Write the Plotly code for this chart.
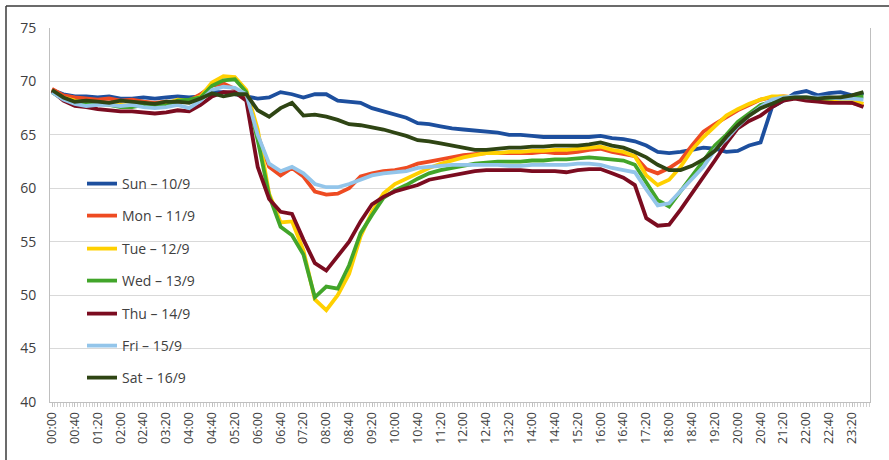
import plotly.graph_objects as go

# time of day in minutes (20-minute samples)
minutes = list(range(0, 1440, 20))

tick_minutes = list(range(0, 1440, 40))
tick_labels = ["00:00", "00:40", "01:20", "02:00", "02:40", "03:20", "04:00", "04:40", "05:20",
               "06:00", "06:40", "07:20", "08:00", "08:40", "09:20", "10:00", "10:40", "11:20",
               "12:00", "12:40", "13:20", "14:00", "14:40", "15:20", "16:00", "16:40", "17:20",
               "18:00", "18:40", "19:20", "20:00", "20:40", "21:20", "22:00", "22:40", "23:20"]

series_names = ["Sun – 10/9", "Mon – 11/9", "Tue – 12/9", "Wed – 13/9", "Thu – 14/9", "Fri – 15/9", "Sat – 16/9"]
series_colors = ["#1D4F9E", "#EE4B22", "#FFD000", "#42A52A", "#7B0C20", "#93C5EA", "#2F4514"]

sun = [69.2, 68.8, 68.6, 68.6, 68.5, 68.6, 68.4, 68.4, 68.5, 68.4, 68.5, 68.6, 68.5, 68.6, 69.0, 69.0,
       68.8, 68.6, 68.4, 68.5, 69.0, 68.8, 68.5, 68.8, 68.8, 68.2, 68.1, 68.0, 67.5, 67.2, 66.9, 66.6,
       66.1, 66.0, 65.8, 65.6, 65.5, 65.4, 65.3, 65.2, 65.0, 65.0, 64.9, 64.8, 64.8, 64.8, 64.8, 64.8,
       64.9, 64.7, 64.6, 64.4, 64.0, 63.4, 63.3, 63.4, 63.6, 63.8, 63.7, 63.4, 63.5, 64.0, 64.3, 67.6,
       68.2, 68.9, 69.1, 68.7, 68.9, 69.0, 68.7, 68.9]
mon = [69.3, 68.7, 68.5, 68.4, 68.3, 68.4, 68.2, 68.3, 68.1, 68.0, 68.1, 68.0, 68.2, 68.8, 69.6, 69.8,
       69.3, 68.6, 65.0, 62.0, 61.2, 61.9, 61.1, 59.7, 59.4, 59.5, 60.0, 61.1, 61.4, 61.6, 61.7, 61.9,
       62.3, 62.5, 62.7, 62.9, 63.1, 63.2, 63.3, 63.3, 63.3, 63.3, 63.3, 63.4, 63.3, 63.3, 63.4, 63.6,
       63.7, 63.4, 63.2, 63.0, 61.8, 61.4, 61.9, 62.6, 64.0, 65.3, 66.0, 66.7, 67.3, 67.8, 68.3, 68.5,
       68.6, 68.5, 68.4, 68.2, 68.2, 68.1, 68.0, 67.7]
tue = [69.1, 68.5, 68.2, 68.0, 68.0, 67.9, 67.8, 67.7, 67.8, 67.8, 67.9, 68.3, 68.2, 68.6, 69.9, 70.5,
       70.4, 69.2, 65.5, 59.5, 56.8, 56.9, 54.2, 49.6, 48.6, 50.0, 52.0, 55.5, 57.8, 59.5, 60.4, 60.9,
       61.4, 61.9, 62.3, 62.6, 62.9, 63.1, 63.3, 63.3, 63.4, 63.4, 63.5, 63.5, 63.6, 63.6, 63.7, 63.8,
       63.9, 63.6, 63.4, 63.0, 61.2, 60.3, 60.8, 62.0, 63.6, 64.8, 65.8, 66.8, 67.4, 67.9, 68.3, 68.6,
       68.6, 68.5, 68.5, 68.3, 68.4, 68.3, 68.2, 67.9]
wed = [69.0, 68.3, 68.0, 67.9, 67.9, 67.8, 67.6, 67.6, 67.8, 67.8, 67.7, 68.2, 68.3, 68.5, 69.6, 70.1,
       70.2, 69.0, 64.5, 59.3, 56.4, 55.6, 53.8, 49.8, 50.8, 50.6, 52.8, 55.8, 57.5, 59.1, 59.8, 60.3,
       60.9, 61.4, 61.7, 61.9, 62.1, 62.3, 62.4, 62.5, 62.5, 62.5, 62.6, 62.6, 62.7, 62.7, 62.8, 62.9,
       62.8, 62.7, 62.6, 62.2, 60.6, 58.9, 58.3, 59.7, 61.2, 62.6, 64.0, 65.0, 66.2, 67.0, 67.8, 68.1,
       68.3, 68.5, 68.5, 68.4, 68.4, 68.5, 68.6, 68.6]
thu = [69.1, 68.2, 67.7, 67.6, 67.4, 67.3, 67.2, 67.2, 67.1, 67.0, 67.1, 67.3, 67.2, 67.8, 68.6, 69.0,
       69.0, 68.2, 62.0, 59.0, 57.8, 57.6, 55.2, 53.0, 52.3, 53.6, 55.0, 56.9, 58.5, 59.2, 59.7, 60.0,
       60.3, 60.8, 61.0, 61.2, 61.4, 61.6, 61.7, 61.7, 61.7, 61.7, 61.6, 61.6, 61.6, 61.5, 61.7, 61.8,
       61.8, 61.4, 61.0, 60.3, 57.2, 56.5, 56.6, 58.0, 59.5, 61.0, 62.6, 64.2, 65.6, 66.3, 66.8, 67.6,
       68.2, 68.4, 68.2, 68.1, 68.0, 68.0, 68.0, 67.6]
fri = [69.0, 68.3, 67.9, 67.7, 67.8, 67.8, 67.7, 67.8, 67.6, 67.5, 67.6, 67.8, 67.5, 68.2, 69.2, 69.5,
       69.4, 68.8, 65.0, 62.3, 61.6, 62.0, 61.4, 60.4, 60.1, 60.1, 60.4, 60.8, 61.2, 61.4, 61.5, 61.6,
       61.9, 62.0, 62.1, 62.2, 62.2, 62.2, 62.2, 62.2, 62.1, 62.1, 62.2, 62.2, 62.2, 62.2, 62.3, 62.3,
       62.2, 61.9, 61.7, 61.5, 59.9, 58.4, 58.6, 59.7, 60.9, 62.0, 63.6, 64.6, 65.8, 66.8, 67.6, 68.3,
       68.5, 68.6, 68.5, 68.5, 68.5, 68.4, 68.4, 68.3]
sat = [69.2, 68.5, 68.1, 68.2, 68.1, 68.0, 68.2, 68.1, 68.0, 67.9, 68.1, 68.1, 68.0, 68.4, 68.9, 68.6,
       68.8, 68.8, 67.3, 66.7, 67.5, 68.0, 66.8, 66.9, 66.7, 66.4, 66.0, 65.9, 65.7, 65.5, 65.2, 64.9,
       64.5, 64.4, 64.2, 64.0, 63.8, 63.6, 63.6, 63.7, 63.8, 63.8, 63.9, 63.9, 64.0, 64.0, 64.0, 64.1,
       64.3, 64.0, 63.8, 63.4, 62.9, 62.2, 61.7, 61.7, 62.1, 62.7, 63.5, 64.8, 65.9, 66.8, 67.5, 67.9,
       68.4, 68.5, 68.5, 68.4, 68.5, 68.5, 68.7, 69.0]

all_series = [sun, mon, tue, wed, thu, fri, sat]

# plot area in pixels: left 50, right 870, top 28, bottom 402
W, H = 889, 460
L, R, T, B = 50, 870, 28, 402
legend_y_px = [184, 216, 249, 281, 314, 346, 378]

fig = go.Figure()
for i, (name, vals, col) in enumerate(zip(series_names, all_series, series_colors)):
    lg = "legend" if i == 0 else f"legend{i+1}"
    fig.add_trace(go.Scatter(x=minutes, y=vals, mode="lines", name=name,
                             line=dict(color=col, width=3.8), legend=lg))

legends = {}
for i, py in enumerate(legend_y_px):
    key = "legend" if i == 0 else f"legend{i+1}"
    legends[key] = dict(x=(82 - L) / (R - L), y=(B - py) / (B - T), xanchor="left", yanchor="middle",
                        bgcolor="rgba(0,0,0,0)", font=dict(family="Open Sans", size=14, color="#404040"),
                        itemwidth=30)

fig.update_layout(
    width=W, height=H,
    margin=dict(l=L, r=W - R, t=T, b=H - B, autoexpand=False),
    paper_bgcolor="white", plot_bgcolor="white",
    showlegend=True,
    **legends,
    xaxis=dict(range=[-3.5, 1431.5], tickmode="array", tickvals=tick_minutes, ticktext=tick_labels,
               tickangle=-90, tickfont=dict(family="Open Sans", size=12.5, color="#404040"),
               showgrid=False, zeroline=False, showline=True, linecolor="#BFBFBF", linewidth=1,
               mirror=False, ticks="outside", ticklen=4, tickcolor="#BFBFBF",
               minor=dict(dtick=5, tick0=0, ticks="outside", ticklen=4, tickcolor="#CFCFCF", showgrid=False)),
    yaxis=dict(range=[40, 75], tickvals=[40, 45, 50, 55, 60, 65, 70, 75],
               tickfont=dict(family="Open Sans", size=14, color="#404040"),
               showgrid=True, gridcolor="#D9D9D9", gridwidth=1, zeroline=False,
               showline=True, linecolor="#BFBFBF", linewidth=1, mirror=True, ticks="",
               ticklabelstandoff=10),
    shapes=[
        dict(type="line", xref="paper", yref="paper",
             x0=(6 - L) / (R - L), x1=(W + 5 - L) / (R - L),
             y0=(B - 6) / (B - T), y1=(B - 6) / (B - T),
             line=dict(color="#3A3A3A", width=1.5)),
        dict(type="line", xref="paper", yref="paper",
             x0=(6 - L) / (R - L), x1=(6 - L) / (R - L),
             y0=(B - 6) / (B - T), y1=(B - H - 5) / (B - T),
             line=dict(color="#3A3A3A", width=1.5)),
    ],
)

fig.write_html("out.html", config={"displayModeBar": False},
               post_script="document.body.style.margin='0';document.body.style.overflow='hidden';")
